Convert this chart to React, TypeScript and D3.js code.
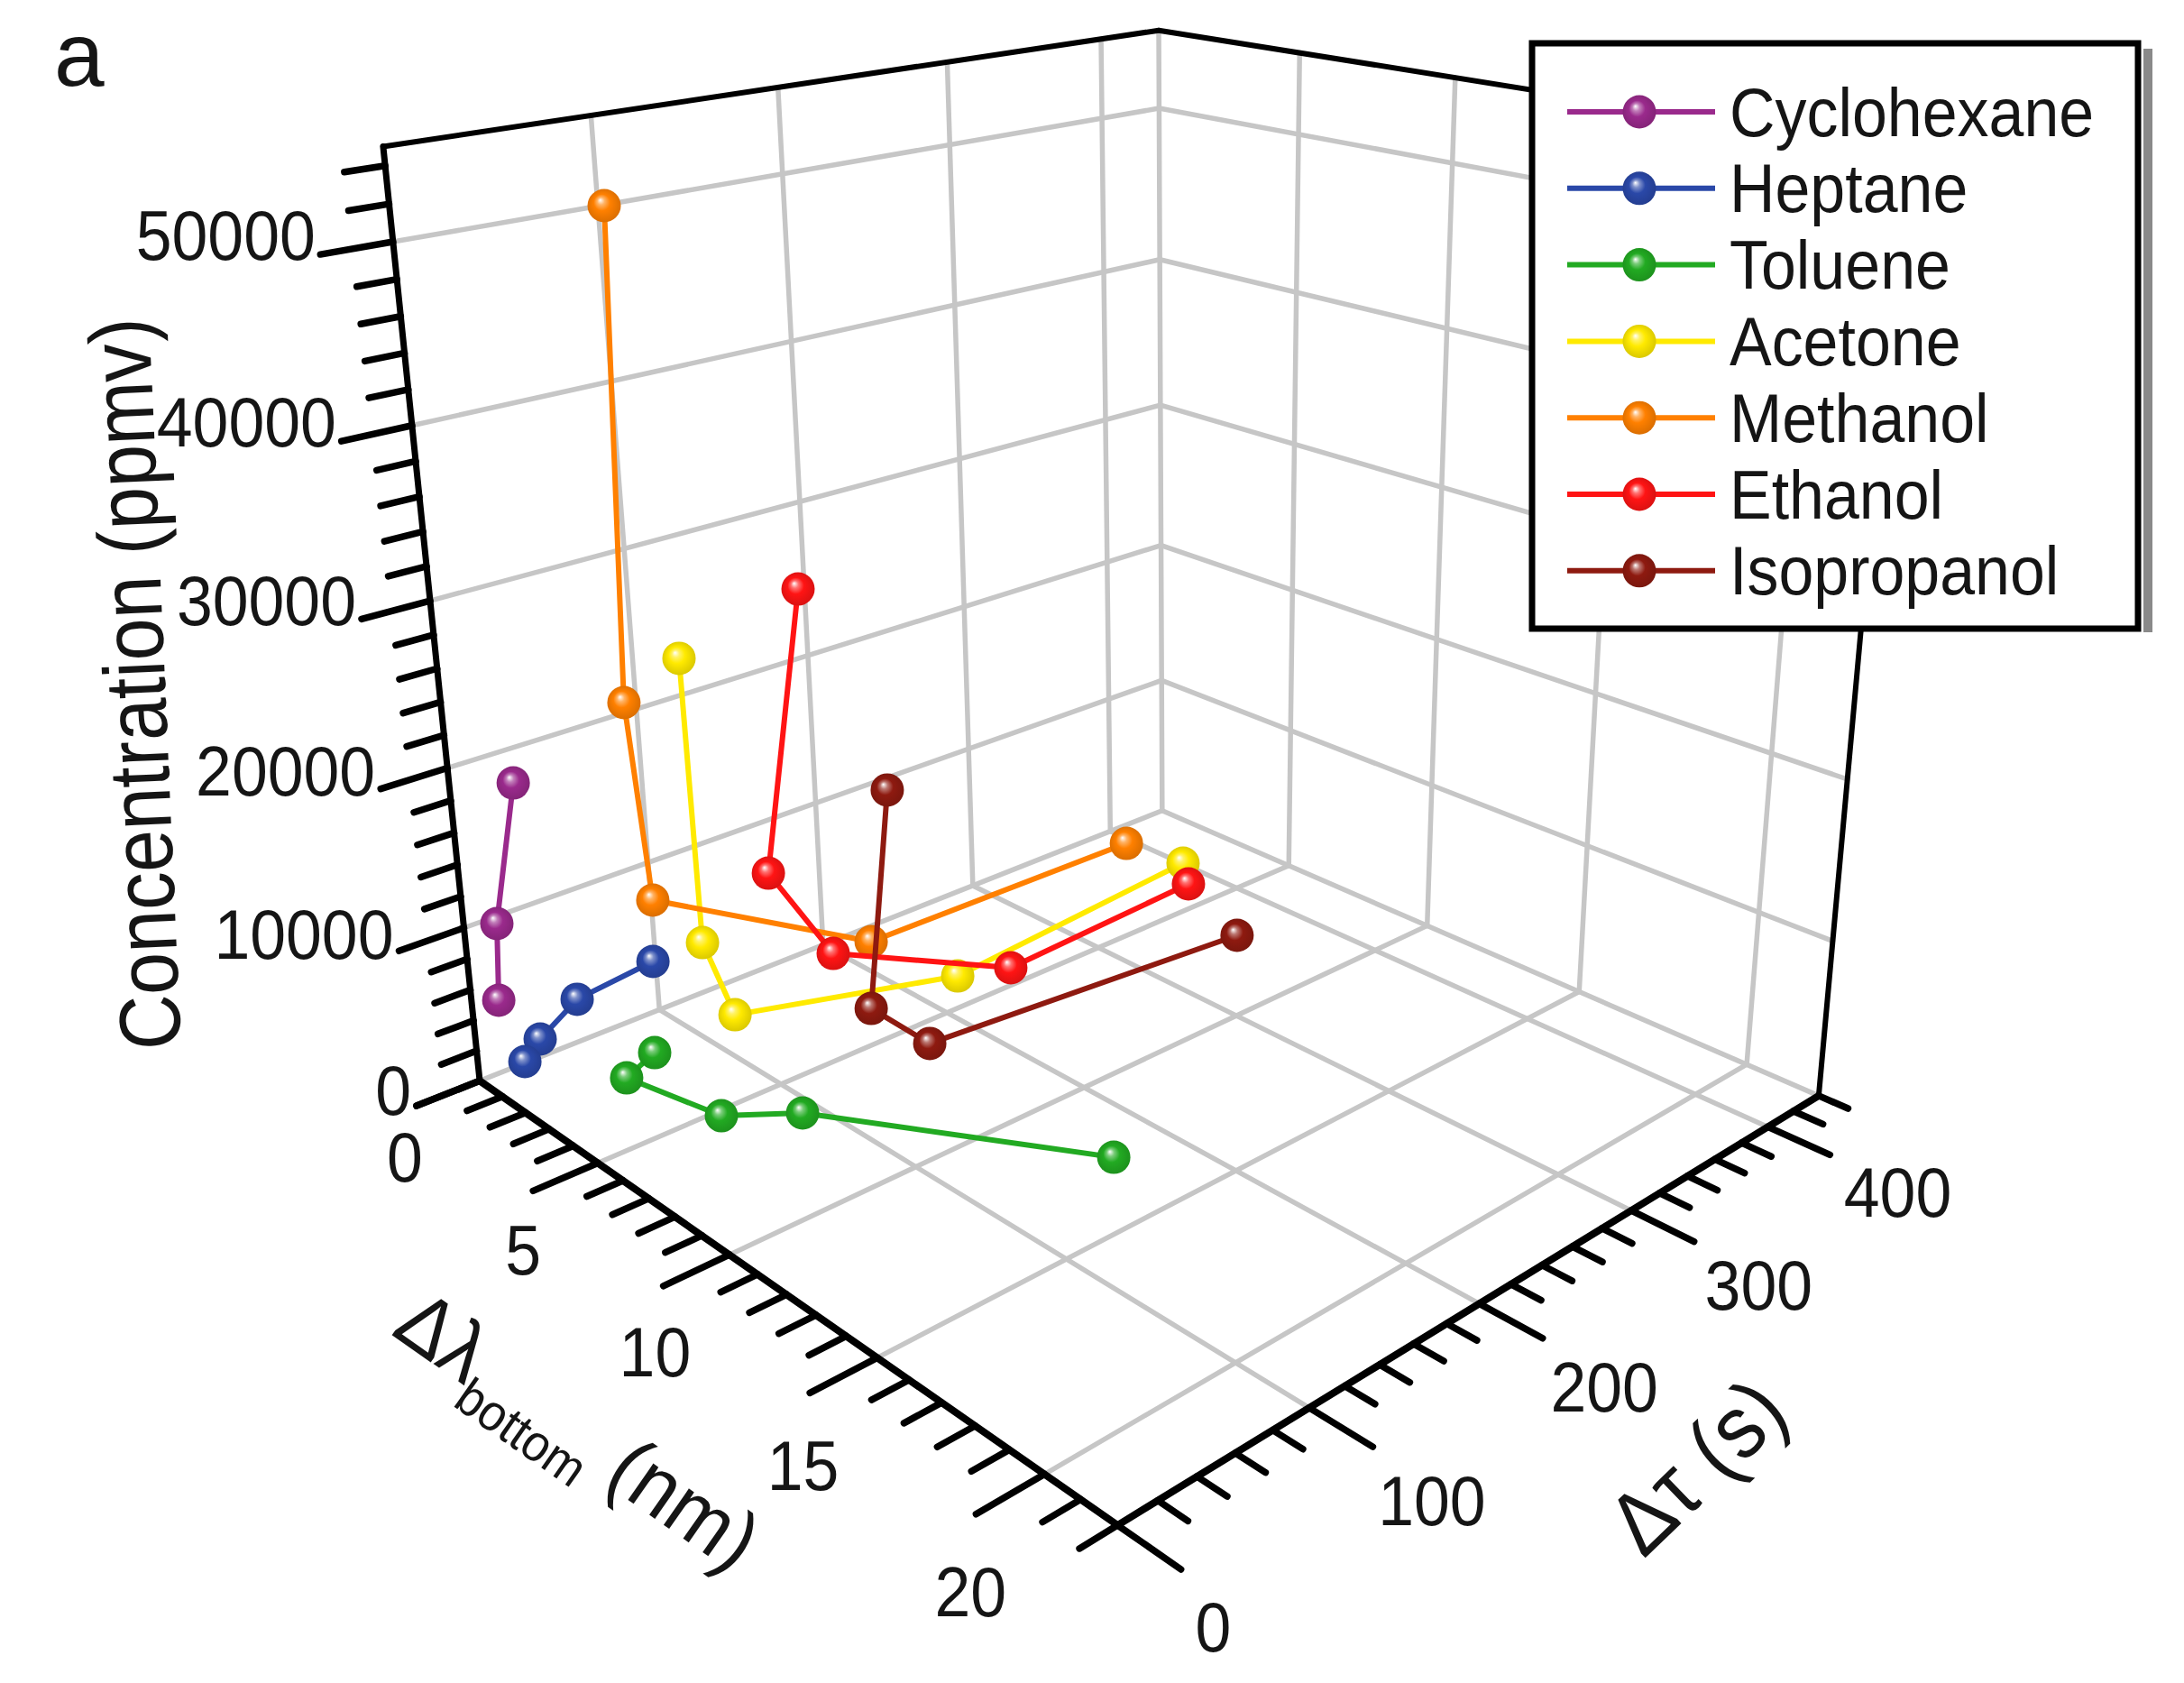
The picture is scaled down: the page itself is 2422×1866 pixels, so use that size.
import * as d3 from "d3";

type Pt = [number, number];

const W = 2422;
const H = 1866;

const lambdaMax = 22;
const tauMax = 440;
const concMax = 55000;

const lambdaTicks = d3.range(0, 23, 1);
const tauTicks = d3.range(0, 441, 20);
const concTicks = d3.range(0, 55000, 2000);
const lambdaLabels = [0, 5, 10, 15, 20];
const tauLabels = [0, 100, 200, 300, 400];
const concLabels = [0, 10000, 20000, 30000, 40000, 50000];
const lambdaGrid = [5, 10, 15, 20];
const tauGrid = [100, 200, 300, 400];
const concGrid = [10000, 20000, 30000, 40000, 50000];

const seriesNames = ["Cyclohexane", "Heptane", "Toluene", "Acetone", "Methanol", "Ethanol", "Isopropanol"];
const seriesColors = ["#9a2a8c", "#2a48a8", "#22aa22", "#ffea00", "#ff8000", "#ff1414", "#8e1a10"];

// Δλ (nm), Δτ (s), concentration (ppmv)
const cyclohexaneLambda = [0.93, 0.33, 0.22];
const cyclohexaneTau = [21.6, 13.2, 11.5];
const cyclohexaneConc = [19000, 10000, 5000];

const heptaneLambda = [1.73, 0.78, 0.54, 0.58];
const heptaneTau = [76.9, 46.0, 27.4, 17.9];
const heptaneConc = [6000, 4000, 2000, 1000];

const tolueneLambda = [3.56, 3.48, 5.79, 6.85, 12.97];
const tolueneTau = [51.3, 36.5, 55.8, 85.3, 164.2];
const tolueneConc = [3000, 2000, 1000, 800, 500];

const acetoneLambda = [4.06, 4.39, 4.59, 5.48, 3.8];
const acetoneTau = [72.8, 70.4, 82.6, 199.7, 383.3];
const acetoneConc = [27000, 10000, 5000, 3000, 1500];

const methanolLambda = [3.27, 2.85, 1.79, 3.85, 2.15];
const methanolTau = [62.2, 58.3, 78.6, 173.1, 372.6];
const methanolConc = [52000, 24000, 10000, 5000, 2000];

const ethanolLambda = [4.98, 4.55, 4.34, 6.63, 4.81];
const ethanolTau = [125.0, 106.2, 143.2, 214.0, 367.8];
const ethanolConc = [30000, 13000, 6000, 4000, 1500];

const isopropanolLambda = [6.34, 5.92, 7.03, 7.41];
const isopropanolTau = [148.8, 140.4, 156.8, 352.1];
const isopropanolConc = [18000, 4000, 2000, 800];

const seriesLambda = [cyclohexaneLambda, heptaneLambda, tolueneLambda, acetoneLambda, methanolLambda, ethanolLambda, isopropanolLambda];
const seriesTau = [cyclohexaneTau, heptaneTau, tolueneTau, acetoneTau, methanolTau, ethanolTau, isopropanolTau];
const seriesConc = [cyclohexaneConc, heptaneConc, tolueneConc, acetoneConc, methanolConc, ethanolConc, isopropanolConc];

// camera: where the corners of the unit box land on the page
const cornerWorld: [number, number, number][] = [
  [0, 0, 0], [1, 0, 0], [1, 1, 0], [0, 1, 0], [0, 0, 1], [0, 1, 1], [1, 1, 1],
];
const cornerScreen: Pt[] = [
  [533, 1198], [1238, 1692], [2018, 1213], [1288, 900], [425, 162], [1285, 33], [2112, 167],
];

function solve(M: number[][], r: number[]) {
  const n = r.length;
  const a = M.map((row, i) => [...row, r[i]]);
  for (let c = 0; c < n; c++) {
    let p = c;
    for (let i = c + 1; i < n; i++) if (Math.abs(a[i][c]) > Math.abs(a[p][c])) p = i;
    [a[c], a[p]] = [a[p], a[c]];
    for (let i = 0; i < n; i++) {
      if (i === c) continue;
      const f = a[i][c] / a[c][c];
      for (let j = c; j <= n; j++) a[i][j] -= f * a[c][j];
    }
  }
  return a.map((row, i) => row[n] / row[i]);
}

// least squares fit of a 3x4 perspective matrix to the corners
function fitCamera() {
  const rows: number[][] = [];
  const rhs: number[] = [];
  cornerWorld.forEach(([X, Y, Z], i) => {
    const [u, v] = cornerScreen[i];
    rows.push([X, Y, Z, 1, 0, 0, 0, 0, -u * X, -u * Y, -u * Z]);
    rhs.push(u);
    rows.push([0, 0, 0, 0, X, Y, Z, 1, -v * X, -v * Y, -v * Z]);
    rhs.push(v);
  });
  const M = d3.range(11).map((i) => d3.range(11).map((j) => d3.sum(rows, (r) => r[i] * r[j])));
  const r = d3.range(11).map((i) => d3.sum(rows, (row, k) => row[i] * rhs[k]));
  return solve(M, r);
}

const cam = fitCamera();
const xS = d3.scaleLinear().domain([0, lambdaMax]).range([0, 1]);
const yS = d3.scaleLinear().domain([0, tauMax]).range([0, 1]);
const zS = d3.scaleLinear().domain([0, concMax]).range([0, 1]);

function projN(X: number, Y: number, Z: number): Pt {
  const w = cam[8] * X + cam[9] * Y + cam[10] * Z + 1;
  return [
    (cam[0] * X + cam[1] * Y + cam[2] * Z + cam[3]) / w,
    (cam[4] * X + cam[5] * Y + cam[6] * Z + cam[7]) / w,
  ];
}
const proj = (l: number, t: number, c: number) => projN(xS(l), yS(t), zS(c));

const lerp = (a: Pt, b: Pt, t: number): Pt => [a[0] + (b[0] - a[0]) * t, a[1] + (b[1] - a[1]) * t];
const tauLabelDx = d3.scaleLinear().domain([0, 100, 400]).range([106, 136, 144]);
const tauLabelDy = d3.scaleLinear().domain([0, 400]).range([112, 72]);

const FONT = "'Liberation Sans', Arial, sans-serif";
const GRID = "#c6c6c6";

function Seg({ a, b, stroke, width }: { a: Pt; b: Pt; stroke: string; width: number }) {
  return <line x1={a[0]} y1={a[1]} x2={b[0]} y2={b[1]} stroke={stroke} strokeWidth={width} strokeLinecap="round" />;
}

function Txt(props: { x: number; y: number; size: number; anchor?: string; rotate?: number; sx?: number; dy?: string; children: any }) {
  const { x, y, size, anchor = "start", rotate = 0, sx = 0.93, dy = "0", children } = props;
  return (
    <g transform={`translate(${x},${y}) rotate(${rotate}) scale(${sx},1)`}>
      <text fontSize={size} textAnchor={anchor} dy={dy} fill="#151515" fontFamily={FONT}>
        {children}
      </text>
    </g>
  );
}

export default function App() {
  const grid: [Pt, Pt][] = [];
  // floor
  lambdaGrid.forEach((l) => grid.push([proj(l, 0, 0), proj(l, tauMax, 0)]));
  tauGrid.forEach((t) => grid.push([proj(0, t, 0), proj(lambdaMax, t, 0)]));
  grid.push([proj(0, 0, 0), proj(0, tauMax, 0)]);
  grid.push([proj(0, tauMax, 0), proj(lambdaMax, tauMax, 0)]);
  // left wall (lambda = 0)
  tauGrid.forEach((t) => grid.push([proj(0, t, 0), proj(0, t, concMax)]));
  concGrid.forEach((c) => grid.push([proj(0, 0, c), proj(0, tauMax, c)]));
  grid.push([proj(0, tauMax, 0), proj(0, tauMax, concMax)]);
  // back wall (tau = max)
  lambdaGrid.forEach((l) => grid.push([proj(l, tauMax, 0), proj(l, tauMax, concMax)]));
  concGrid.forEach((c) => grid.push([proj(0, tauMax, c), proj(lambdaMax, tauMax, c)]));

  const tickLen = (major: boolean) => (major ? 0.075 : 0.042);
  const ticks: [Pt, Pt][] = [];
  concTicks.forEach((c) => {
    const z = zS(c);
    ticks.push([projN(0, 0, z), projN(0, -tickLen(c % 10000 === 0), z)]);
  });
  lambdaTicks.forEach((l) => {
    ticks.push([proj(l, 0, 0), projN(xS(l), -tickLen(l % 5 === 0), 0)]);
  });
  tauTicks.forEach((t) => {
    ticks.push([proj(lambdaMax, t, 0), projN(1 + (t % 100 === 0 ? 0.075 : 0.036), yS(t), 0)]);
  });

  const line = d3.line<Pt>();

  return (
    <svg
      width={W}
      height={H}
      viewBox={`0 0 ${W} ${H}`}
      style={{ display: "block", background: "#fff", position: "absolute", left: 0, top: 0 }}
    >
      <defs>
        {seriesColors.map((col, i) => (
          <radialGradient key={i} id={`ball${i}`} cx="0.5" cy="0.5" r="0.55" fx="0.38" fy="0.33">
            <stop offset="0" stopColor="#ffffff" />
            <stop offset="0.2" stopColor={d3.interpolateRgb("#ffffff", col)(0.6)} />
            <stop offset="0.45" stopColor={col} />
            <stop offset="1" stopColor={d3.color(col)!.darker(0.5).formatHex()} />
          </radialGradient>
        ))}
      </defs>

      {grid.map(([a, b], i) => (
        <Seg key={`g${i}`} a={a} b={b} stroke={GRID} width={5.5} />
      ))}

      {/* box edges and axes */}
      <Seg a={proj(0, 0, concMax)} b={proj(0, tauMax, concMax)} stroke="#000" width={6} />
      <Seg a={proj(0, tauMax, concMax)} b={proj(lambdaMax, tauMax, concMax)} stroke="#000" width={6} />
      <Seg a={proj(lambdaMax, tauMax, 0)} b={proj(lambdaMax, tauMax, concMax)} stroke="#000" width={6} />
      <Seg a={proj(0, 0, 0)} b={proj(0, 0, concMax)} stroke="#000" width={7} />
      <Seg a={proj(0, 0, 0)} b={proj(lambdaMax, 0, 0)} stroke="#000" width={8} />
      <Seg a={proj(lambdaMax, 0, 0)} b={proj(lambdaMax, tauMax, 0)} stroke="#000" width={8} />
      {ticks.map(([a, b], i) => (
        <Seg key={`t${i}`} a={a} b={b} stroke="#000" width={7.5} />
      ))}

      {/* tick labels */}
      {concLabels.map((c) => {
        const p = proj(0, 0, c);
        const o = lerp([-76, 10], [-86, -8], c / 50000);
        return (
          <Txt key={`cl${c}`} x={p[0] + o[0]} y={p[1] + o[1]} size={77} anchor="end" dy="0.36em">
            {c}
          </Txt>
        );
      })}
      {lambdaLabels.map((l) => {
        const p = proj(l, 0, 0);
        const o = lerp([-83, 84], [-82, 130], l / 20);
        return (
          <Txt key={`ll${l}`} x={p[0] + o[0]} y={p[1] + o[1]} size={77} anchor="middle" dy="0.36em">
            {l}
          </Txt>
        );
      })}
      {tauLabels.map((t) => {
        const p = proj(lambdaMax, t, 0);
        return (
          <Txt key={`tl${t}`} x={p[0] + tauLabelDx(t)} y={p[1] + tauLabelDy(t)} size={77} anchor="middle" dy="0.36em">
            {t}
          </Txt>
        );
      })}

      {/* axis titles */}
      <g transform="translate(183,757) rotate(-92.5)">
        <text fontSize={96} textAnchor="middle" fontFamily={FONT} fill="#151515" textLength={812} lengthAdjust="spacingAndGlyphs">
          Concentration (ppmv)
        </text>
      </g>
      <Txt x={623} y={1612} size={93} anchor="middle" rotate={35}>
        Δλ<tspan fontSize={57} dy="0.45em">bottom</tspan>
        <tspan dy="-0.28em"> (nm)</tspan>
      </Txt>
      <Txt x={1905} y={1650} size={98} anchor="middle" rotate={-44}>
        Δτ (s)
      </Txt>
      <Txt x={60} y={95} size={100} sx={1}>
        a
      </Txt>

      {/* series */}
      {seriesNames.map((name, s) => {
        const scr = seriesLambda[s].map((l, i) => proj(l, seriesTau[s][i], seriesConc[s][i]));
        return (
          <g key={name}>
            <path d={line(scr) ?? ""} fill="none" stroke={seriesColors[s]} strokeWidth={6} strokeLinejoin="round" />
            {scr.map((p, i) => (
              <circle key={i} cx={p[0]} cy={p[1]} r={18.5} fill={`url(#ball${s})`} />
            ))}
          </g>
        );
      })}

      {/* legend */}
      <rect x={2377} y={54} width={10} height={647} fill="#8a8a8a" />
      <rect x={1699} y={48} width={672} height={649} fill="#fff" stroke="#000" strokeWidth={7} />
      {seriesNames.map((name, i) => {
        const y = 124 + i * 84.8;
        return (
          <g key={`lg${name}`}>
            <line x1={1738} x2={1902} y1={y} y2={y} stroke={seriesColors[i]} strokeWidth={6} />
            <circle cx={1818} cy={y} r={18.5} fill={`url(#ball${i})`} />
            <Txt x={1918} y={y} size={76} dy="0.35em" sx={0.92}>
              {name}
            </Txt>
          </g>
        );
      })}
    </svg>
  );
}
